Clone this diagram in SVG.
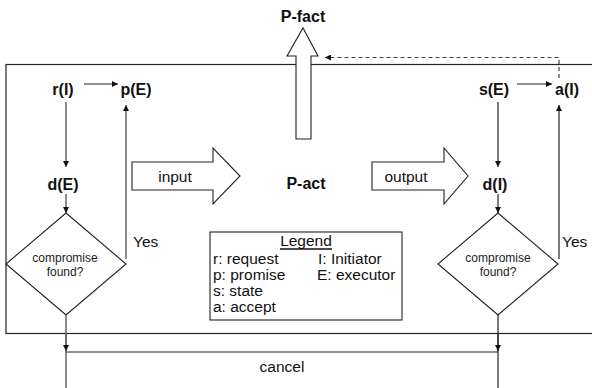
<svg xmlns="http://www.w3.org/2000/svg" width="592" height="388" viewBox="0 0 592 388">
<defs>
<style>
.ln{fill:none;stroke:#222;stroke-width:1.2}
.gl{fill:none;stroke:#666;stroke-width:1.5}
.sh{fill:#fff;stroke:#222;stroke-width:1.1}
.b{font-family:"Liberation Sans",Arial,sans-serif;font-weight:bold;font-size:16px;fill:#111;text-anchor:middle}
.t{font-family:"Liberation Sans",Arial,sans-serif;font-size:15.5px;fill:#111}
.s{font-family:"Liberation Sans",Arial,sans-serif;font-size:12px;fill:#222;text-anchor:middle}
</style>
<marker id="ah" viewBox="0 0 10 10" refX="10" refY="5" markerWidth="6" markerHeight="6" markerUnits="userSpaceOnUse" orient="auto">
<path d="M0,0 L10,5 L0,10 Z" fill="#111"/>
</marker>
</defs>
<rect id="frame" x="6" y="64.5" width="600" height="269" fill="none" stroke="#222" stroke-width="1.2"/>
<g id="pfact">
<path class="sh" d="M296,139 L296,56 L287,56 L303,28 L318,56 L311,56 L311,139 Z"/>
<text class="b" x="303" y="22" font-size="18">P-fact</text>
</g>
<g id="pact"><text class="b" x="306" y="189" font-size="18">P-act</text></g>
<g id="input">
<path class="sh" d="M132,162 L213,162 L213,148 L240,176 L213,204 L213,190 L132,190 Z"/>
<text class="t" x="175" y="182" text-anchor="middle" font-size="16">input</text>
</g>
<g id="output">
<path class="sh" d="M372,162 L444,162 L444,148 L468,176 L444,204 L444,190 L372,190 Z"/>
<text class="t" x="406" y="182" text-anchor="middle" font-size="16">output</text>
</g>
<g id="rI"><text class="b" x="63" y="95">r(I)</text></g>
<g id="pE"><text class="b" x="136" y="95">p(E)</text></g>
<g id="dE"><text class="b" x="63" y="190">d(E)</text></g>
<g id="sE"><text class="b" x="494" y="95">s(E)</text></g>
<g id="aI"><text class="b" x="567" y="95">a(I)</text></g>
<g id="dI"><text class="b" x="495" y="190">d(I)</text></g>
<g id="dec1">
<path class="sh" d="M66,213 L126,264 L66,315 L6,264 Z"/>
<text class="s" x="65" y="262">compromise</text>
<text class="s" x="65" y="276">found?</text>
</g>
<g id="dec2">
<path class="sh" d="M498,213 L558,264 L498,315 L438,264 Z"/>
<text class="s" x="498" y="262">compromise</text>
<text class="s" x="498" y="276">found?</text>
</g>
<g id="legend">
<rect x="210" y="232" width="192" height="88" fill="#fff" stroke="#222" stroke-width="1.1"/>
<text class="t" x="306" y="246" text-anchor="middle">Legend</text>
<line x1="280" y1="249" x2="332" y2="249" stroke="#111" stroke-width="1.3"/>
<text class="t" x="213" y="264">r: request</text>
<text class="t" x="318" y="264">I: Initiator</text>
<text class="t" x="213" y="280">p: promise</text>
<text class="t" x="317" y="280">E: executor</text>
<text class="t" x="213" y="296">s: state</text>
<text class="t" x="213" y="312">a: accept</text>
</g>
<g id="labels">
<text class="t" x="133" y="247">Yes</text>
<text class="t" x="562" y="247">Yes</text>
<text class="t" x="282" y="372" text-anchor="middle">cancel</text>
</g>
<g id="connectors">
<line class="ln" x1="84" y1="84" x2="118" y2="84" marker-end="url(#ah)"/>
<line class="ln" x1="517" y1="84" x2="552" y2="84" marker-end="url(#ah)"/>
<line class="gl" x1="66" y1="102" x2="66" y2="167" marker-end="url(#ah)"/>
<line class="ln" x1="498" y1="102" x2="498" y2="167" marker-end="url(#ah)"/>
<line class="gl" x1="66" y1="194" x2="66" y2="213" marker-end="url(#ah)"/>
<line class="ln" x1="498" y1="194" x2="498" y2="213" marker-end="url(#ah)"/>
<line class="gl" x1="126" y1="259" x2="126" y2="105" marker-end="url(#ah)"/>
<line class="ln" x1="559" y1="259" x2="559" y2="105" marker-end="url(#ah)"/>
<path d="M559,78 L559,57.5 L325,57.5" fill="none" stroke="#444" stroke-width="1.2" stroke-dasharray="4,3" marker-end="url(#ah)"/>
<line class="gl" x1="66" y1="315" x2="66" y2="388"/>
<line class="ln" x1="498" y1="315" x2="498" y2="388"/>
<line class="gl" x1="66" y1="334" x2="66" y2="351" marker-end="url(#ah)"/>
<line class="ln" x1="498" y1="334" x2="498" y2="351" marker-end="url(#ah)"/>
<line class="ln" x1="66" y1="352" x2="498" y2="352"/>
</g>
</svg>
